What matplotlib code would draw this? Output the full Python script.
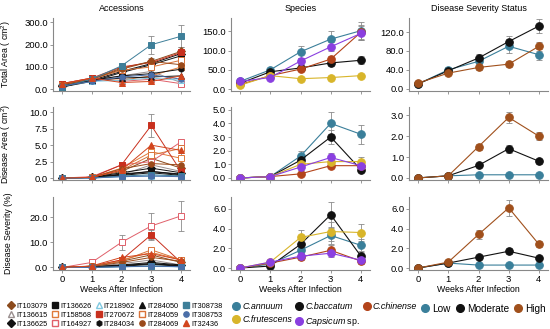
import matplotlib
matplotlib.use("Agg")
import matplotlib.pyplot as plt
from matplotlib.lines import Line2D

plt.rcParams['font.family'] = ['Liberation Sans', 'DejaVu Sans']
plt.rcParams['mathtext.fontset'] = 'custom'
plt.rcParams['mathtext.rm'] = 'Liberation Sans'
plt.rcParams['mathtext.it'] = 'Liberation Sans:italic'

weeks = [0, 1, 2, 3, 4]

# accessions: name, colour, marker, filled
acc_names = ["IT103079", "IT136615", "IT136625", "IT136626", "IT158568",
             "IT164927", "IT218962", "IT270672", "IT284034", "IT284050",
             "IT284059", "IT284069", "IT308738", "IT308753", "IT32436"]
acc_colors = ["#8B4A1C", "#9A8F8F", "#111111", "#111111", "#E07A3A",
              "#E0606A", "#7FC8E0", "#C8301E", "#111111", "#111111",
              "#D9733A", "#9A4A1A", "#3E7F99", "#4A6EA8", "#D2451E"]
acc_markers = ["D", "^", "D", "s", "s", "s", "^", "s", "h", "^",
               "s", "o", "s", "o", "^"]
acc_filled = [True, False, True, True, False, False, False, True, True, True,
              False, True, True, True, True]

acc_total = [
    [20, 45, 95, 125, 170],
    [15, 40, 60, 80, 30],
    [15, 40, 80, 115, 160],
    [10, 35, 75, 110, 150],
    [20, 45, 40, 60, 100],
    [25, 50, 35, 45, 25],
    [15, 35, 40, 50, 40],
    [25, 50, 100, 120, 165],
    [10, 40, 60, 70, 90],
    [15, 40, 50, 55, 60],
    [20, 45, 85, 100, 130],
    [20, 45, 90, 125, 110],
    [10, 45, 105, 200, 238],
    [15, 35, 55, 65, 45],
    [25, 50, 30, 35, 60],
]
acc_area = [
    [0.0, 0.1, 1.0, 3.0, 1.5],
    [0.0, 0.1, 0.5, 2.0, 1.0],
    [0.0, 0.1, 0.8, 1.5, 0.8],
    [0.0, 0.1, 0.6, 1.0, 0.5],
    [0.0, 0.1, 1.5, 4.0, 3.0],
    [0.0, 0.2, 2.0, 2.5, 5.5],
    [0.0, 0.0, 0.2, 0.3, 0.3],
    [0.0, 0.1, 2.0, 8.0, 1.0],
    [0.0, 0.1, 0.5, 1.0, 0.6],
    [0.0, 0.1, 0.4, 0.8, 0.4],
    [0.0, 0.1, 1.2, 3.5, 4.5],
    [0.0, 0.1, 1.4, 2.2, 2.0],
    [0.0, 0.0, 0.3, 0.5, 0.3],
    [0.0, 0.0, 0.2, 0.3, 0.2],
    [0.0, 0.1, 1.2, 5.0, 4.2],
]
acc_sev = [
    [0.0, 0.5, 2.5, 5.0, 2.0],
    [0.0, 0.3, 1.5, 3.0, 1.0],
    [0.0, 0.3, 1.0, 2.0, 1.0],
    [0.0, 0.2, 0.8, 1.5, 0.8],
    [0.0, 0.5, 3.0, 6.0, 3.0],
    [0.0, 2.0, 10.0, 16.5, 20.5],
    [0.0, 0.1, 0.3, 0.4, 0.3],
    [0.0, 0.5, 3.0, 13.0, 2.0],
    [0.0, 0.2, 0.7, 1.5, 0.6],
    [0.0, 0.2, 0.5, 1.2, 0.5],
    [0.0, 0.5, 2.5, 7.0, 3.0],
    [0.0, 0.4, 2.0, 4.0, 2.5],
    [0.0, 0.0, 0.3, 0.6, 0.3],
    [0.0, 0.0, 0.3, 0.5, 0.3],
    [0.0, 0.6, 4.0, 5.5, 3.0],
]
acc_total_err = {12: [5, 8, 15, 40, 50], 7: [10, 12, 15, 20, 25]}
acc_area_err = {7: [0, 0.1, 0.5, 1.7, 0.5], 10: [0, 0.1, 0.5, 1.0, 1.2]}
acc_sev_err = {5: [0, 1.5, 3, 5, 6], 7: [0, 0.5, 1, 2, 0.8]}

# species
sp_names = ["C.annuum", "C.baccatum", "C.chinense", "C.frutescens",
            "$\\it{Capsicum}$ sp."]
sp_colors = ["#3A7F9A", "#111111", "#B3441A", "#D8B52A", "#8A3FE0"]
sp_total = [
    [20, 50, 97, 130, 152],
    [15, 45, 55, 68, 75],
    [12, 35, 52, 78, 148],
    [10, 35, 27, 30, 35],
    [20, 30, 73, 110, 145],
]
sp_total_err = [
    [5, 6, 15, 22, 22],
    [4, 5, 6, 8, 10],
    [3, 5, 6, 8, 20],
    [3, 4, 4, 4, 4],
    [4, 5, 8, 12, 18],
]
sp_area = [
    [0.0, 0.1, 1.6, 4.0, 3.2],
    [0.0, 0.1, 1.3, 3.0, 0.6],
    [0.0, 0.1, 0.3, 0.9, 0.9],
    [0.0, 0.1, 1.0, 1.2, 1.2],
    [0.0, 0.1, 0.8, 1.5, 0.9],
]
sp_area_err = [
    [0, 0.05, 0.4, 0.8, 0.7],
    [0, 0.05, 0.3, 0.5, 0.2],
    [0, 0.05, 0.1, 0.2, 0.2],
    [0, 0.05, 0.2, 0.3, 0.3],
    [0, 0.05, 0.2, 0.3, 0.2],
]
sp_sev = [
    [0.0, 0.4, 1.8, 3.3, 2.3],
    [0.0, 0.2, 2.4, 5.4, 1.2],
    [0.0, 0.5, 1.1, 1.8, 0.7],
    [0.0, 0.6, 3.1, 3.7, 3.6],
    [0.0, 0.6, 1.2, 1.5, 0.8],
]
sp_sev_err = [
    [0, 0.1, 0.5, 0.9, 0.6],
    [0, 0.1, 0.6, 1.3, 0.4],
    [0, 0.1, 0.3, 0.5, 0.3],
    [0, 0.1, 0.8, 1.0, 0.9],
    [0, 0.1, 0.3, 0.4, 0.3],
]

# disease severity status
st_names = ["Low", "Moderate", "High"]
st_colors = ["#3A7F9A", "#111111", "#A0501C"]
st_total = [
    [10, 40, 58, 90, 72],
    [10, 38, 65, 100, 133],
    [12, 33, 45, 52, 90],
]
st_total_err = [
    [3, 5, 8, 15, 12],
    [3, 4, 8, 12, 14],
    [3, 4, 5, 6, 10],
]
st_area = [
    [0.0, 0.1, 0.15, 0.15, 0.15],
    [0.0, 0.1, 0.6, 1.4, 0.8],
    [0.0, 0.1, 1.5, 2.9, 2.0],
]
st_area_err = [
    [0, 0.02, 0.03, 0.03, 0.03],
    [0, 0.03, 0.1, 0.2, 0.12],
    [0, 0.03, 0.15, 0.25, 0.2],
]
st_sev = [
    [0.0, 0.5, 0.3, 0.3, 0.3],
    [0.0, 0.5, 1.1, 1.7, 1.0],
    [0.0, 0.6, 3.4, 6.1, 2.4],
]
st_sev_err = [
    [0, 0.05, 0.05, 0.05, 0.05],
    [0, 0.1, 0.2, 0.3, 0.2],
    [0, 0.1, 0.5, 0.8, 0.3],
]

fig = plt.figure(figsize=(5.5, 3.29), dpi=100)
W, H = 550.0, 329.0
col_px = [(53, 137), (231, 139), (409, 139)]
row_px = [(18, 91), (107, 180), (197, 270)]
axes = []
for r, (top, bot) in enumerate(row_px):
    row = []
    for c, (left, width) in enumerate(col_px):
        ax = fig.add_axes([left / W, 1 - bot / H, width / W, (bot - top) / H])
        row.append(ax)
    axes.append(row)

FS = 6.3

def style(ax):
    for s in ["top", "right"]:
        ax.spines[s].set_visible(False)
    for s in ["left", "bottom"]:
        ax.spines[s].set_color("#888888")
        ax.spines[s].set_linewidth(0.8)
    ax.tick_params(labelsize=FS + 0.5, length=2, width=0.6, color="#888888", pad=1.5)
    ax.set_xlim(-0.3, 4.3)
    ax.set_xticks(weeks)
    ax.yaxis.set_major_formatter(matplotlib.ticker.FormatStrFormatter("%.1f"))

def draw(ax, y, err, color, marker, filled, ms, lw=0.8):
    if err is not None:
        ax.errorbar(weeks, y, yerr=err, fmt="none", ecolor="#8a8a8a",
                    elinewidth=0.6, capsize=2, capthick=0.6, zorder=1)
    ax.plot(weeks, y, color=color, lw=lw, marker=marker, ms=ms,
            mfc=color if filled else "white", mec=color, mew=0.7, zorder=2)

# accessions column
acc_data = [(acc_total, acc_total_err), (acc_area, acc_area_err), (acc_sev, acc_sev_err)]
for r, (vals, errs) in enumerate(acc_data):
    ax = axes[r][0]
    for i in range(len(acc_names)):
        draw(ax, vals[i], errs.get(i), acc_colors[i], acc_markers[i], acc_filled[i], 4, lw=0.7)

# species column
sp_data = [(sp_total, sp_total_err), (sp_area, sp_area_err), (sp_sev, sp_sev_err)]
for r, (vals, errs) in enumerate(sp_data):
    ax = axes[r][1]
    for i in range(len(sp_names)):
        draw(ax, vals[i], errs[i], sp_colors[i], "o", True, 5.5)

# status column
st_data = [(st_total, st_total_err), (st_area, st_area_err), (st_sev, st_sev_err)]
for r, (vals, errs) in enumerate(st_data):
    ax = axes[r][2]
    for i in range(len(st_names)):
        draw(ax, vals[i], errs[i], st_colors[i], "o", True, 5.5)

for row in axes:
    for ax in row:
        style(ax)

# y scales
axes[0][0].set_ylim(-8, 320); axes[0][0].set_yticks([0, 100, 200, 300])
axes[1][0].set_ylim(-0.3, 10.8); axes[1][0].set_yticks([0, 2.5, 5, 7.5, 10])
axes[2][0].set_ylim(-1, 28); axes[2][0].set_yticks([0, 10, 20])
axes[0][1].set_ylim(-5, 185); axes[0][1].set_yticks([0, 50, 100, 150])
axes[1][1].set_ylim(-0.15, 5.2); axes[1][1].set_yticks([0, 1, 2, 3, 4, 5])
axes[2][1].set_ylim(-0.2, 7.2); axes[2][1].set_yticks([0, 2, 4, 6])
axes[0][2].set_ylim(-5, 150); axes[0][2].set_yticks([0, 40, 80, 120])
axes[1][2].set_ylim(-0.1, 3.4); axes[1][2].set_yticks([0, 1, 2, 3])
axes[2][2].set_ylim(-0.2, 7.2); axes[2][2].set_yticks([0, 2, 4, 6])

for r in range(2):
    for ax in axes[r]:
        ax.set_xticklabels([])
for ax in axes[2]:
    ax.set_xlabel("Weeks After Infection", fontsize=FS, labelpad=0.5)

axes[0][0].set_ylabel("Total Area ( cm$^2$)", fontsize=FS)
axes[1][0].set_ylabel("Disease Area ( cm$^2$)", fontsize=FS)
axes[2][0].set_ylabel("Disease Severity (%)", fontsize=FS)
for r in range(3):
    axes[r][0].yaxis.set_label_coords(-0.29, 0.5)

for ax, t in zip(axes[0], ["Accessions", "Species", "Disease Severity Status"]):
    ax.set_title(t, fontsize=FS + 0.2, pad=5)

# legends
acc_handles = [Line2D([], [], ls="none", marker=m, ms=3.8, color=c,
                      mfc=c if f else "white", mec=c)
               for m, c, f in zip(acc_markers, acc_colors, acc_filled)]
fig.legend(acc_handles, acc_names, loc="upper left", bbox_to_anchor=(0.008, 0.092),
           ncol=5, fontsize=5.3, frameon=False, handlelength=0.8, handletextpad=0.3,
           columnspacing=0.6, labelspacing=0.25, borderpad=0)

order = [0, 3, 1, 4, 2]
sp_handles = [Line2D([], [], ls="none", marker="o", ms=5.5, color=sp_colors[i]) for i in order]
leg = fig.legend(sp_handles, [sp_names[i] for i in order], loc="upper left",
                 bbox_to_anchor=(0.413, 0.095), ncol=3, fontsize=6.4, frameon=False,
                 handlelength=1.0, handletextpad=0.2, columnspacing=0.25,
                 labelspacing=0.4, borderpad=0)
for t in leg.get_texts():
    if not t.get_text().startswith("$"):
        t.set_fontstyle("italic")

st_handles = [Line2D([], [], ls="none", marker="o", ms=5.5, color=c) for c in st_colors]
fig.legend(st_handles, st_names, loc="upper left", bbox_to_anchor=(0.757, 0.092),
           ncol=3, fontsize=7.2, frameon=False, handlelength=0.8, handletextpad=0.3,
           columnspacing=0.5, borderpad=0)

fig.savefig("out.png", dpi=100)
